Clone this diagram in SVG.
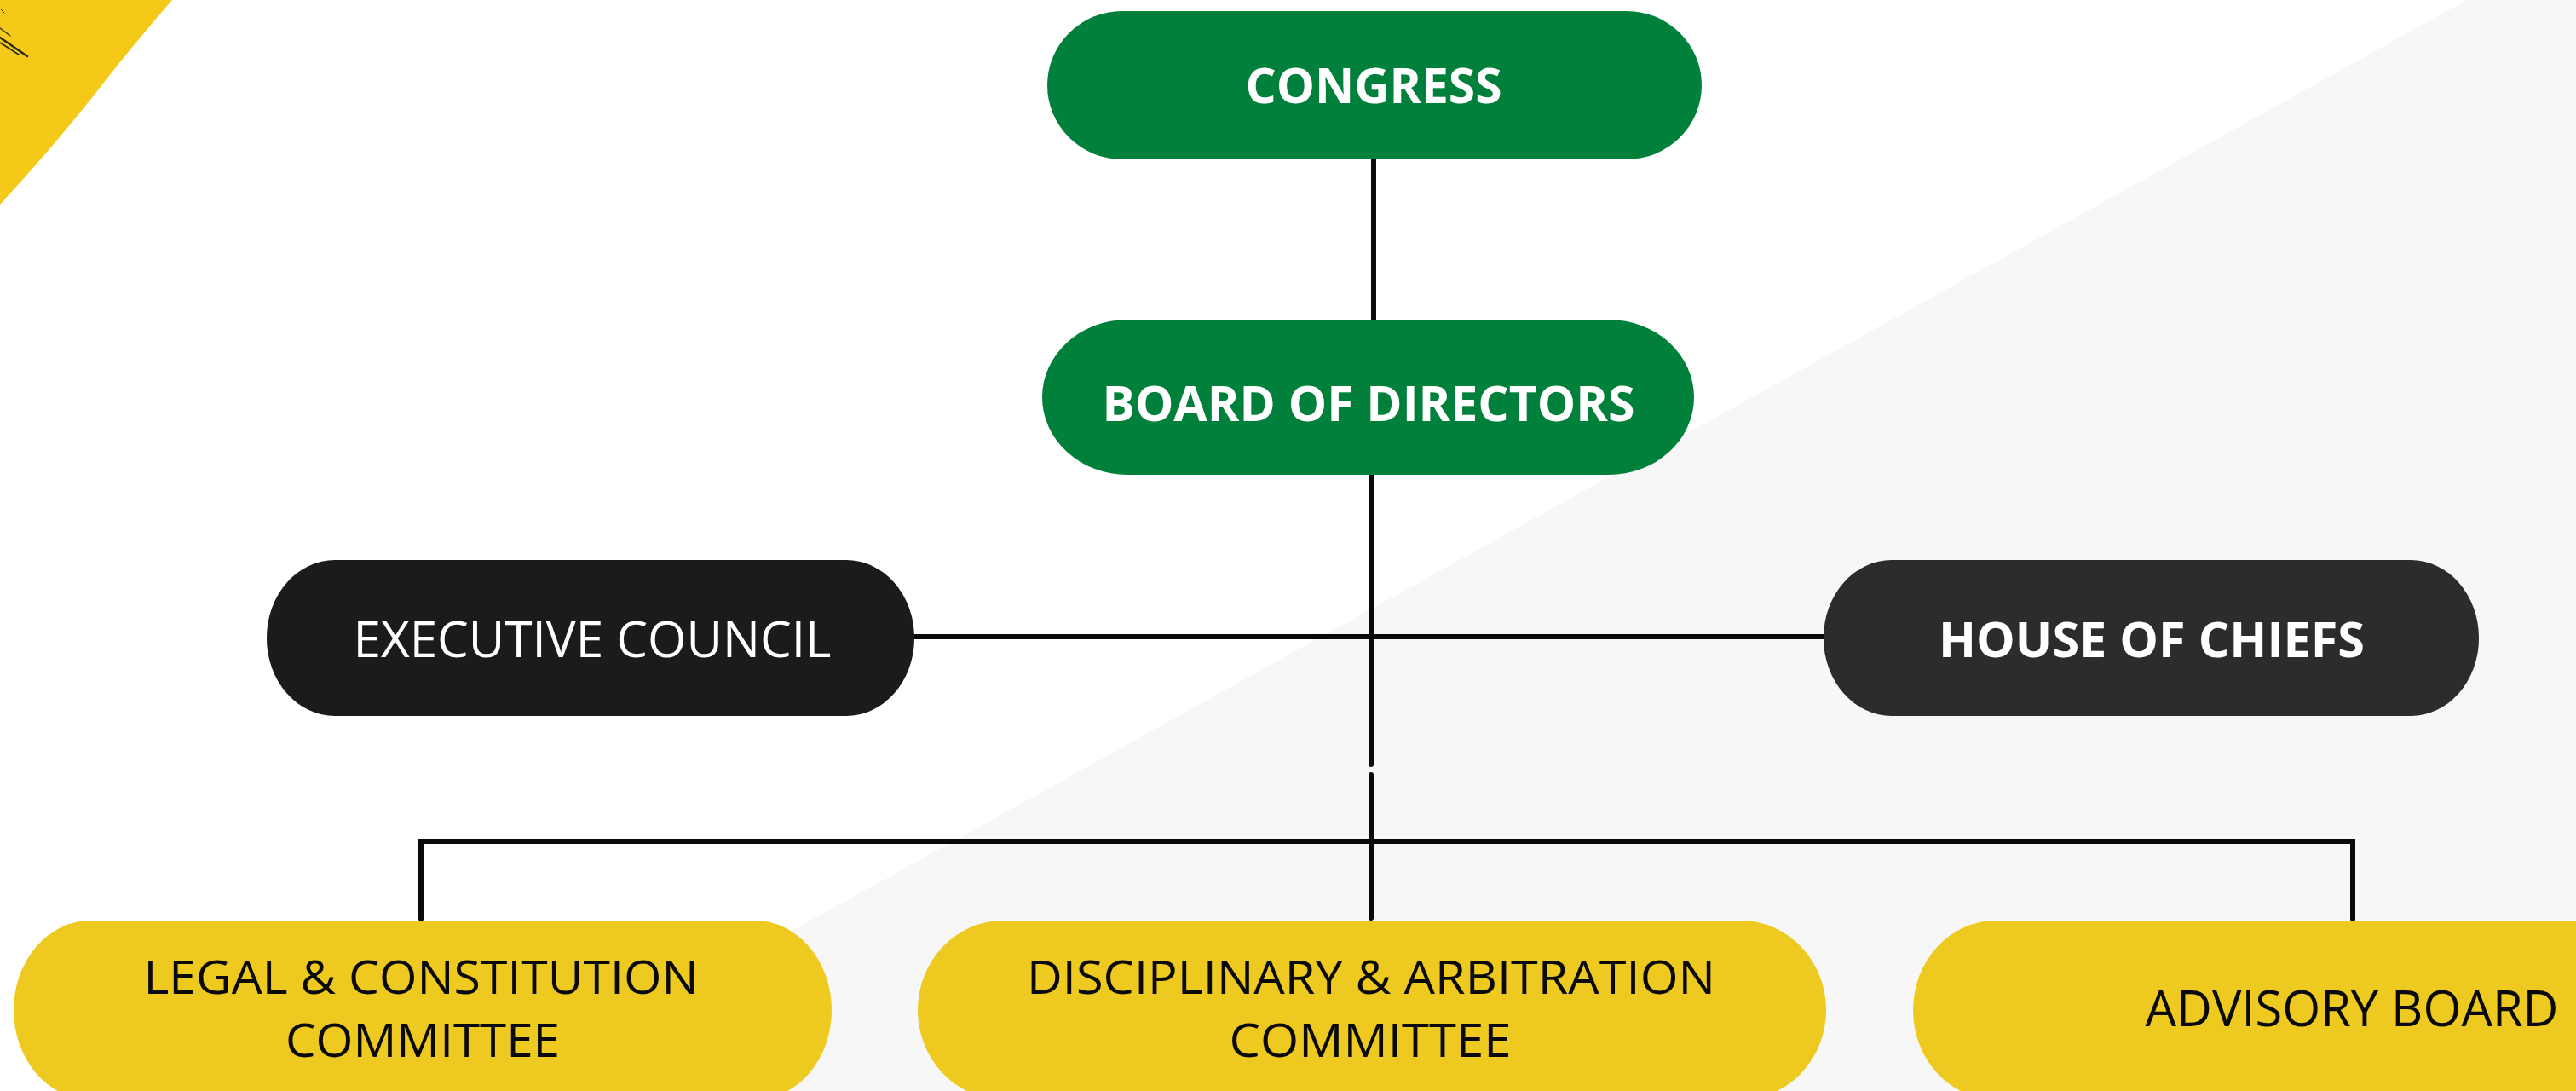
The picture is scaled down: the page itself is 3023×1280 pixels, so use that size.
<svg xmlns="http://www.w3.org/2000/svg" width="3023" height="1280" viewBox="0 0 3023 1280">
  <style>
    .bold { font-family: "Open Sans", "Liberation Sans", sans-serif; font-weight: 700; font-size: 57px; fill: #ffffff; }
    .reg { font-family: "Open Sans", "Liberation Sans", sans-serif; font-weight: 400; font-size: 58px; }
    .small { font-size: 54px; }
    .white { fill: #ffffff; }
    .dark { fill: #0a0a0a; }
    .green { fill: #00803a; }
    .yellow { fill: #eec920; }
    .conn { stroke: #0a0a0a; stroke-width: 6; fill: none; stroke-linecap: round; stroke-linejoin: miter; }
  </style>
  <rect x="0" y="0" width="3023" height="1280" fill="#ffffff"/>
  <polygon points="2895,0 3023,0 3023,1280 591,1280" fill="#f7f7f7"/>
  <path d="M0,0 L202,0 Q150,60 110,112 Q60,175 0,240 Z" fill="#f5c918"/>
  <g stroke="#2a2a1a" stroke-linecap="round" fill="none">
    <path d="M0,44 L32,66" stroke-width="2.5"/>
    <path d="M0,50 L22,64" stroke-width="1.5"/>
    <path d="M0,33 L12,42" stroke-width="1.2"/>
    <path d="M0,10 L5,15" stroke-width="1"/>
  </g>

  <g id="connectors">
    <line class="conn" x1="1612" y1="187" x2="1612" y2="375"/>
    <line class="conn" x1="1609" y1="557" x2="1609" y2="897"/>
    <line class="conn" x1="1609" y1="909" x2="1609" y2="1077"/>
    <line class="conn" x1="1073" y1="747" x2="2140" y2="747"/>
    <polyline class="conn" points="494,1078 494,987 2761,987 2761,1078"/>
  </g>

  <g id="congress">
    <rect class="green" x="1229" y="13" width="768" height="174" rx="88" ry="87"/>
    <text class="bold" x="1612" y="121" text-anchor="middle" textLength="301" lengthAdjust="spacingAndGlyphs">CONGRESS</text>
  </g>
  <g id="board-of-directors">
    <rect class="green" x="1223" y="375" width="765" height="182" rx="100" ry="91"/>
    <text class="bold" x="1606" y="494" text-anchor="middle" textLength="625" lengthAdjust="spacingAndGlyphs">BOARD OF DIRECTORS</text>
  </g>
  <g id="executive-council">
    <rect x="313" y="657" width="760" height="183" rx="80" ry="91" fill="#1b1b1b"/>
    <text class="reg white" x="695" y="771" text-anchor="middle" textLength="561" lengthAdjust="spacingAndGlyphs">EXECUTIVE COUNCIL</text>
  </g>
  <g id="house-of-chiefs">
    <rect x="2140" y="657" width="769" height="183" rx="80" ry="91" fill="#2c2c2c"/>
    <text class="bold" x="2525" y="771" text-anchor="middle" textLength="500" lengthAdjust="spacingAndGlyphs">HOUSE OF CHIEFS</text>
  </g>
  <g id="legal-constitution-committee">
    <rect class="yellow" x="16" y="1080" width="960" height="210" rx="90" ry="105"/>
    <text class="reg small dark" x="494" y="1166" text-anchor="middle" textLength="651" lengthAdjust="spacingAndGlyphs">LEGAL &amp; CONSTITUTION</text>
    <text class="reg small dark" x="496" y="1240" text-anchor="middle" textLength="322" lengthAdjust="spacingAndGlyphs">COMMITTEE</text>
  </g>
  <g id="disciplinary-arbitration-committee">
    <rect class="yellow" x="1077" y="1080" width="1066" height="210" rx="100" ry="105"/>
    <text class="reg small dark" x="1609" y="1166" text-anchor="middle" textLength="808" lengthAdjust="spacingAndGlyphs">DISCIPLINARY &amp; ARBITRATION</text>
    <text class="reg small dark" x="1608" y="1240" text-anchor="middle" textLength="331" lengthAdjust="spacingAndGlyphs">COMMITTEE</text>
  </g>
  <g id="advisory-board">
    <rect class="yellow" x="2245" y="1080" width="900" height="210" rx="97" ry="105"/>
    <text class="reg dark" x="2760" y="1204" text-anchor="middle" textLength="485" lengthAdjust="spacingAndGlyphs">ADVISORY BOARD</text>
  </g>
</svg>
